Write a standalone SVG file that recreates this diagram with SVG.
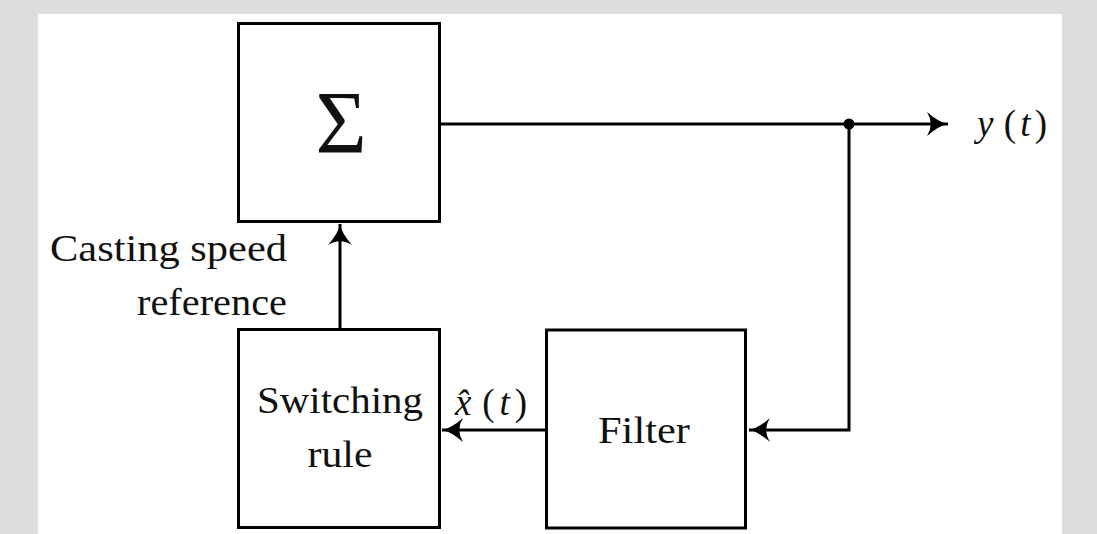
<svg xmlns="http://www.w3.org/2000/svg" width="1097" height="534" viewBox="0 0 1097 534">
<style>
.box{fill:#fff;stroke:#000;stroke-width:3}
.ln{fill:none;stroke:#000;stroke-width:3}
.t{font-family:"Liberation Serif","DejaVu Serif",serif;fill:#111;font-size:37px}
.m{font-family:"Liberation Serif","DejaVu Serif",serif;fill:#111;font-size:37px}
</style>
<defs>
<marker id="ah" markerUnits="userSpaceOnUse" markerWidth="30" markerHeight="30" refX="0" refY="0" viewBox="-16 -10 20 20" orient="auto">
<path d="M-14,-8 Q-6,-1 0,0 Q-6,1 -14,8 Q-9,0 -14,-8 Z" fill="#000"/>
</marker>
</defs>
<rect x="0" y="0" width="1097" height="534" fill="#dcdcdc"/>
<rect x="38" y="14" width="1024" height="520" fill="#fff"/>
<g id="sum">
<rect class="box" x="238.5" y="23.5" width="201" height="198"/>
<text x="341" y="152" text-anchor="middle" font-family="Liberation Serif,serif" font-size="88" fill="#111">Σ</text>
</g>
<g id="switching">
<rect class="box" x="238.5" y="329.5" width="201" height="198"/>
<text class="t" x="340" y="413" text-anchor="middle" textLength="166" lengthAdjust="spacingAndGlyphs">Switching</text>
<text class="t" x="340" y="467" text-anchor="middle" textLength="65" lengthAdjust="spacingAndGlyphs">rule</text>
</g>
<g id="filter">
<rect class="box" x="546.5" y="330" width="199" height="198"/>
<text class="t" x="644" y="443" text-anchor="middle" textLength="92" lengthAdjust="spacingAndGlyphs">Filter</text>
</g>
<g id="labels">
<text class="t" x="287" y="261" text-anchor="end" textLength="237" lengthAdjust="spacingAndGlyphs">Casting speed</text>
<text class="t" x="287" y="315" text-anchor="end" textLength="150" lengthAdjust="spacingAndGlyphs">reference</text>
<text class="m" x="977" y="136" textLength="70" lengthAdjust="spacing"><tspan font-style="italic">y</tspan><tspan dx="6">(</tspan><tspan font-style="italic">t</tspan><tspan>)</tspan></text>
<text class="m" x="455" y="415" textLength="72" lengthAdjust="spacing"><tspan font-style="italic">x̂</tspan><tspan dx="6">(</tspan><tspan font-style="italic">t</tspan><tspan>)</tspan></text>
</g>
<g id="connectors">
<line class="ln" x1="441" y1="124" x2="948" y2="124" marker-end="url(#ah)"/>
<circle cx="849" cy="124" r="5.5" fill="#000"/>
<polyline class="ln" points="849,124 849,430 749,430" marker-end="url(#ah)"/>
<line class="ln" x1="545" y1="430" x2="442" y2="430" marker-end="url(#ah)"/>
<line class="ln" x1="340" y1="328" x2="340" y2="224" marker-end="url(#ah)"/>
</g>
</svg>
